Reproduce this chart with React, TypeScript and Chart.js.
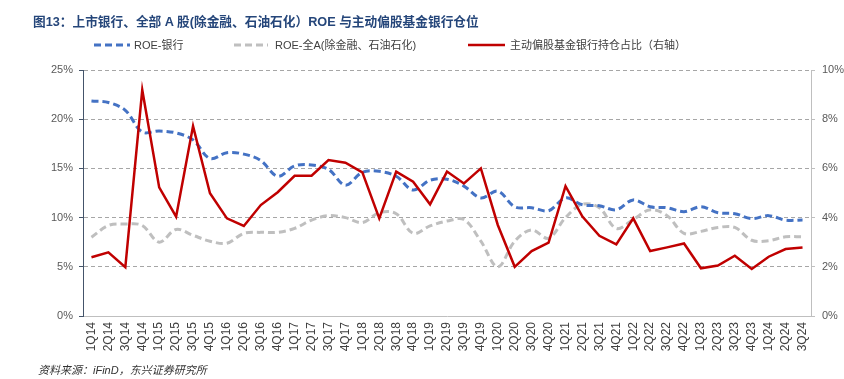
import React, { useEffect, useRef } from "react";
import { Chart, registerables } from "chart.js";
Chart.register(...registerables);

const quarters = [
  "1Q14", "2Q14", "3Q14", "4Q14", "1Q15", "2Q15", "3Q15", "4Q15",
  "1Q16", "2Q16", "3Q16", "4Q16", "1Q17", "2Q17", "3Q17", "4Q17",
  "1Q18", "2Q18", "3Q18", "4Q18", "1Q19", "2Q19", "3Q19", "4Q19",
  "1Q20", "2Q20", "3Q20", "4Q20", "1Q21", "2Q21", "3Q21", "4Q21",
  "1Q22", "2Q22", "3Q22", "4Q22", "1Q23", "2Q23", "3Q23", "4Q23",
  "1Q24", "2Q24", "3Q24",
];

// ROE-银行 (left axis, %)
const roeBank = [
  21.85, 21.7, 20.9, 18.7, 18.8, 18.6, 17.9, 16.0,
  16.6, 16.45, 15.8, 14.2, 15.25, 15.35, 14.9, 13.3,
  14.6, 14.7, 14.2, 12.8, 13.8, 13.9, 13.2, 12.0,
  12.7, 11.1, 11.0, 10.7, 12.0, 11.3, 11.2, 10.8,
  11.8, 11.1, 11.0, 10.6, 11.1, 10.5, 10.4, 9.9,
  10.2, 9.75, 9.75,
];

// ROE-全A(除金融、石油石化) (left axis, %)
const roeAllA = [
  8.0, 9.2, 9.35, 9.2, 7.5, 8.8, 8.2, 7.6,
  7.4, 8.4, 8.5, 8.5, 8.9, 9.75, 10.2, 10.0,
  9.5, 10.5, 10.4, 8.4, 9.15, 9.65, 9.8, 7.6,
  5.0, 7.6, 8.75, 7.9, 10.0, 11.35, 11.0, 8.9,
  9.8, 10.8, 10.2, 8.4, 8.6, 9.0, 9.0, 7.7,
  7.65, 8.05, 8.05,
];

// 主动偏股基金银行持仓占比 (right axis, %)
const fundBankWeight = [
  2.39, 2.59, 1.98, 9.19, 5.23, 4.04, 7.72, 4.99,
  3.97, 3.66, 4.51, 5.03, 5.7, 5.7, 6.34, 6.23,
  5.84, 3.97, 5.87, 5.46, 4.54, 5.87, 5.39, 6.0,
  3.7, 2.0, 2.64, 2.98, 5.28, 4.04, 3.26, 2.91,
  3.97, 2.64, 2.79, 2.95, 1.94, 2.05, 2.45, 1.91,
  2.41, 2.72, 2.78,
];

const leftMin = 0;
const leftMax = 25;
const leftStep = 5;
const rightMin = 0;
const rightMax = 10;
const rightStep = 2;

const titleText = "图13：上市银行、全部 A 股(除金融、石油石化）ROE 与主动偏股基金银行仓位";
const legendLabels = ["ROE-银行", "ROE-全A(除金融、石油石化)", "主动偏股基金银行持仓占比（右轴）"];
const sourceText = "资料来源：iFinD，东兴证券研究所";

const FONT = "'Liberation Sans', Arial, 'Noto Sans CJK SC', sans-serif";
const BLUE = "#4472C4";
const GRAY = "#BFBFBF";
const RED = "#C00000";
const TEXT = "#404040";

export default function App() {
  const ref = useRef<HTMLCanvasElement | null>(null);

  useEffect(() => {
    if (!ref.current) return;
    const chart = new Chart(ref.current, {
      type: "line",
      data: {
        labels: quarters,
        datasets: [
          {
            label: legendLabels[0],
            data: roeBank,
            borderColor: BLUE,
            backgroundColor: BLUE,
            borderWidth: 3,
            borderDash: [7, 4],
            pointRadius: 0,
            tension: 0.35,
            yAxisID: "y",
            order: 2,
          },
          {
            label: legendLabels[1],
            data: roeAllA,
            borderColor: GRAY,
            backgroundColor: GRAY,
            borderWidth: 3,
            borderDash: [7, 4],
            pointRadius: 0,
            tension: 0.35,
            yAxisID: "y",
            order: 3,
          },
          {
            label: legendLabels[2],
            data: fundBankWeight,
            borderColor: RED,
            backgroundColor: RED,
            borderWidth: 2.5,
            pointRadius: 0,
            tension: 0,
            yAxisID: "y1",
            order: 1,
          },
        ],
      },
      options: {
        responsive: false,
        animation: false,
        devicePixelRatio: 1,
        layout: { padding: { top: 70, left: 0, right: 0, bottom: 0 } },
        plugins: {
          legend: { display: false },
          title: { display: false },
          tooltip: { enabled: false },
        },
        scales: {
          x: {
            type: "category",
            offset: true,
            grid: { display: false, drawTicks: false },
            border: { display: true, color: "#BFBFBF", width: 1 },
            ticks: {
              autoSkip: false,
              minRotation: 90,
              maxRotation: 90,
              padding: 6,
              color: TEXT,
              font: { size: 12, family: FONT },
            },
            afterFit: (s: any) => {
              s.height = 63;
            },
          },
          y: {
            position: "left",
            min: leftMin,
            max: leftMax,
            ticks: {
              stepSize: leftStep,
              padding: 6,
              color: "#595959",
              font: { size: 11, family: FONT },
              callback: (v: any) => v + "%",
            },
            grid: {
              color: (c: any) => (c.tick && c.tick.value === 0 ? "rgba(0,0,0,0)" : "#A6A6A6"),
              lineWidth: 1,
              tickLength: 4,
              tickColor: "#44546A",
              tickWidth: 1,
            },
            border: { display: true, color: "#44546A", width: 1, dash: [4, 3] },
            afterFit: (s: any) => {
              s.width = 83;
            },
          },
          y1: {
            position: "right",
            min: rightMin,
            max: rightMax,
            ticks: {
              stepSize: rightStep,
              padding: 7,
              color: "#595959",
              font: { size: 11, family: FONT },
              callback: (v: any) => v + "%",
            },
            grid: {
              drawOnChartArea: false,
              tickLength: 4,
              tickColor: "#BFBFBF",
              tickWidth: 1,
            },
            border: { display: true, color: "#BFBFBF", width: 1 },
            afterFit: (s: any) => {
              s.width = 33;
            },
          },
        },
      },
    });
    return () => chart.destroy();
  }, []);

  const legendText: React.CSSProperties = {
    position: "absolute",
    top: 37,
    fontSize: 11,
    lineHeight: "16px",
    color: TEXT,
    fontFamily: FONT,
    whiteSpace: "nowrap",
  };

  return (
    <div
      style={{
        position: "fixed",
        left: 0,
        top: 0,
        width: 844,
        height: 379,
        background: "#ffffff",
        overflow: "hidden",
      }}
    >
      <canvas
        ref={ref}
        width={844}
        height={379}
        style={{ position: "absolute", left: 0, top: 0, width: 844, height: 379 }}
      />
      <div
        style={{
          position: "absolute",
          left: 33,
          top: 14,
          fontSize: 12.7,
          lineHeight: "16px",
          fontWeight: "bold",
          color: "#25467A",
          fontFamily: FONT,
          whiteSpace: "nowrap",
        }}
      >
        {titleText}
      </div>
      <svg
        width={844}
        height={60}
        style={{ position: "absolute", left: 0, top: 0 }}
      >
        <line x1={94} y1={45} x2={130} y2={45} stroke={BLUE} strokeWidth={3} strokeDasharray="7 4" />
        <line x1={234} y1={45} x2={268} y2={45} stroke={GRAY} strokeWidth={3} strokeDasharray="7 4" />
        <line x1={468} y1={45} x2={505} y2={45} stroke={RED} strokeWidth={2.5} />
      </svg>
      <div style={{ ...legendText, left: 134 }}>{legendLabels[0]}</div>
      <div style={{ ...legendText, left: 275 }}>{legendLabels[1]}</div>
      <div style={{ ...legendText, left: 510 }}>{legendLabels[2]}</div>
      <div
        style={{
          position: "absolute",
          left: 38,
          top: 362,
          fontSize: 11,
          lineHeight: "16px",
          fontStyle: "italic",
          color: "#333333",
          fontFamily: FONT,
          whiteSpace: "nowrap",
        }}
      >
        {sourceText}
      </div>
    </div>
  );
}
